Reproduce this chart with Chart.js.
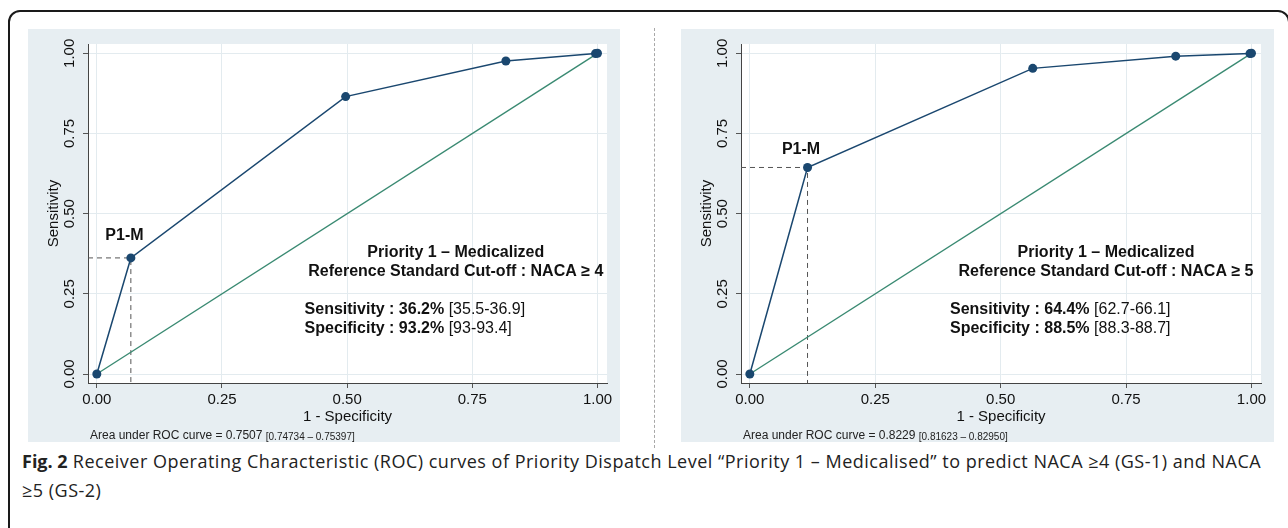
<!DOCTYPE html>
<html lang="en">
<head>
<meta charset="UTF-8">
<title>ROC curves – Priority 1 Medicalised</title>
<script src="https://cdn.jsdelivr.net/npm/chart.js"></script>
<style>
  body { margin: 0; width: 1288px; height: 528px; background: #fff; position: relative; overflow: hidden; }
  #frame { position: absolute; left: 8px; top: 10px; width: 1282px; height: 600px; box-sizing: border-box;
           border: 2px solid #1a1a1a; border-radius: 12px; }
  .panel { position: absolute; top: 29px; height: 413px; background: #e7eef2; }
  #p1 { left: 28px; width: 592px; }
  #p2 { left: 681px; width: 593px; }
  #divider { position: absolute; left: 654px; top: 28px; height: 420px; border-left: 1px dashed #a8a8a8; }
  #caption { position: absolute; left: 22px; top: 447px; font-family: "Open Sans", sans-serif; font-size: 18px;
             letter-spacing: 0.5px; line-height: 29px; color: #222; white-space: nowrap; }
  #caption b { font-weight: 700; letter-spacing: 0; }
</style>
</head>
<body>
<div id="frame"></div>
<div class="panel" id="p1"><canvas id="c1" width="592" height="413"></canvas></div>
<div id="divider"></div>
<div class="panel" id="p2"><canvas id="c2" width="593" height="413"></canvas></div>
<div id="caption"><b>Fig. 2</b> Receiver Operating Characteristic (ROC) curves of Priority Dispatch Level “Priority 1 – Medicalised” to predict NACA ≥4 (GS-1) and NACA<br>≥5 (GS-2)</div>

<script>
// axis ticks, both plots
const tickValues = [0, 0.25, 0.5, 0.75, 1];

// GS-1 : NACA >= 4
const fprGS1 = [0, 0.068, 0.497, 0.817, 0.996, 1];
const tprGS1 = [0, 0.362, 0.865, 0.976, 0.999, 1];
const cutGS1 = [0.068, 0.362];
const titleGS1 = ['Priority 1 – Medicalized', 'Reference Standard Cut-off : NACA ≥ 4'];
const sensGS1 = ['Sensitivity : 36.2%', '[35.5-36.9]'];
const specGS1 = ['Specificity : 93.2%', '[93-93.4]'];
const aucGS1 = ['Area under ROC curve = 0.7507', '[0.74734 – 0.75397]'];

// GS-2 : NACA >= 5
const fprGS2 = [0, 0.115, 0.564, 0.849, 0.997, 1];
const tprGS2 = [0, 0.644, 0.953, 0.991, 0.999, 1];
const cutGS2 = [0.115, 0.644];
const titleGS2 = ['Priority 1 – Medicalized', 'Reference Standard Cut-off : NACA ≥ 5'];
const sensGS2 = ['Sensitivity : 64.4%', '[62.7-66.1]'];
const specGS2 = ['Specificity : 88.5%', '[88.3-88.7]'];
const aucGS2 = ['Area under ROC curve = 0.8229', '[0.81623 – 0.82950]'];

const FONT = '"Liberation Sans", Arial, sans-serif';
const NAVY = '#1a476f';
const GREEN = '#3a8a72';
const X_MIN = -0.0176, X_MAX = 1.019, Y_MIN = -0.028, Y_MAX = 1.029;

// white plot region inside the grey graph region
const plotBg = {
  id: 'plotBg',
  beforeDraw(chart) {
    const { ctx, chartArea: a } = chart;
    ctx.save();
    ctx.fillStyle = '#fff';
    ctx.fillRect(a.left, a.top, a.right - a.left, a.bottom - a.top);
    ctx.restore();
  }
};

// text that Stata puts in the plot: rotated y labels, P1-M tag, the box, the AUC note
const rocText = {
  id: 'rocText',
  afterDraw(chart, args, o) {
    const { ctx, chartArea, scales: { x, y } } = chart;
    ctx.save();
    ctx.fillStyle = '#111';
    ctx.textBaseline = 'middle';

    ctx.font = '15px ' + FONT;
    ctx.textAlign = 'center';
    y.ticks.forEach(t => {
      ctx.save();
      ctx.translate(chartArea.left - 18, y.getPixelForValue(t.value));
      ctx.rotate(-Math.PI / 2);
      ctx.fillText(t.value.toFixed(2), 0, 0);
      ctx.restore();
    });

    ctx.font = 'bold 16px ' + FONT;
    ctx.textAlign = 'left';
    ctx.fillText('P1-M', x.getPixelForValue(o.tag[0]), y.getPixelForValue(o.tag[1]));

    ctx.textAlign = 'center';
    o.title.forEach((s, i) => {
      ctx.fillText(s, x.getPixelForValue(o.titleAt[0]), y.getPixelForValue(o.titleAt[1]) + i * 19);
    });

    ctx.textAlign = 'left';
    [o.sens, o.spec].forEach((pair, i) => {
      let px = x.getPixelForValue(o.statsAt[0]);
      const py = y.getPixelForValue(o.statsAt[1]) + i * 19;
      ctx.font = 'bold 16px ' + FONT;
      ctx.fillText(pair[0], px, py);
      px += ctx.measureText(pair[0] + ' ').width;
      ctx.font = '16px ' + FONT;
      ctx.fillText(pair[1], px, py);
    });

    let ax = chartArea.left + 2;
    const ay = chartArea.bottom + 53;
    ctx.font = '12px ' + FONT;
    ctx.fillStyle = '#222';
    ctx.fillText(o.auc[0] + ' ', ax, ay);
    ax += ctx.measureText(o.auc[0] + ' ').width;
    ctx.font = '10px ' + FONT;
    ctx.fillText(o.auc[1], ax, ay + 1);
    ctx.restore();
  }
};

function rocChart(id, fpr, tpr, cut, text) {
  const axis = (title, pad) => ({
    type: 'linear',
    afterBuildTicks: s => { s.ticks = tickValues.map(v => ({ value: v })); },
    grid: { color: '#e3ebef', lineWidth: 1, tickColor: '#555', tickLength: 5 },
    border: { display: true, color: '#444', width: 1 },
    title: { display: true, text: title, color: '#111', font: { family: FONT, size: 15 }, padding: pad }
  });
  const xAxis = axis('1 - Specificity', { top: 0, bottom: 16 });
  xAxis.min = X_MIN; xAxis.max = X_MAX;
  xAxis.ticks = { color: '#111', font: { family: FONT, size: 15 }, padding: 3, maxRotation: 0,
                  callback: v => v.toFixed(2) };
  xAxis.afterFit = s => { s.height = 59; };
  const yAxis = axis('Sensitivity', { top: 17, bottom: 0 });
  yAxis.min = Y_MIN; yAxis.max = Y_MAX;
  yAxis.ticks = { display: false };
  yAxis.afterFit = s => { s.width = 60; };

  return new Chart(document.getElementById(id), {
    type: 'scatter',
    data: {
      datasets: [
        {
          label: 'ROC',
          data: fpr.map((v, i) => ({ x: v, y: tpr[i] })),
          showLine: true, borderColor: NAVY, borderWidth: 1.5,
          pointRadius: 4.5, pointBackgroundColor: NAVY, pointBorderColor: NAVY, pointBorderWidth: 0
        },
        {
          label: 'Reference',
          data: [{ x: 0, y: 0 }, { x: 1, y: 1 }],
          showLine: true, borderColor: GREEN, borderWidth: 1.4, pointRadius: 0
        },
        {
          label: 'Cut-off',
          data: [{ x: X_MIN, y: cut[1] }, { x: cut[0], y: cut[1] }, { x: cut[0], y: Y_MIN }],
          showLine: true, borderColor: '#555', borderWidth: 1, borderDash: [5, 4], pointRadius: 0
        }
      ]
    },
    options: {
      responsive: false,
      animation: false,
      layout: { padding: { top: 15, right: 13, left: 0, bottom: 0 } },
      scales: { x: xAxis, y: yAxis },
      plugins: { legend: { display: false }, tooltip: { enabled: false }, rocText: text }
    },
    plugins: [plotBg, rocText]
  });
}

rocChart('c1', fprGS1, tprGS1, cutGS1, {
  tag: [0.017, 0.433], title: titleGS1, titleAt: [0.717, 0.380],
  sens: sensGS1, spec: specGS1, statsAt: [0.415, 0.200], auc: aucGS1
});
rocChart('c2', fprGS2, tprGS2, cutGS2, {
  tag: [0.064, 0.70], title: titleGS2, titleAt: [0.71, 0.380],
  sens: sensGS2, spec: specGS2, statsAt: [0.399, 0.200], auc: aucGS2
});
</script>
</body>
</html>
